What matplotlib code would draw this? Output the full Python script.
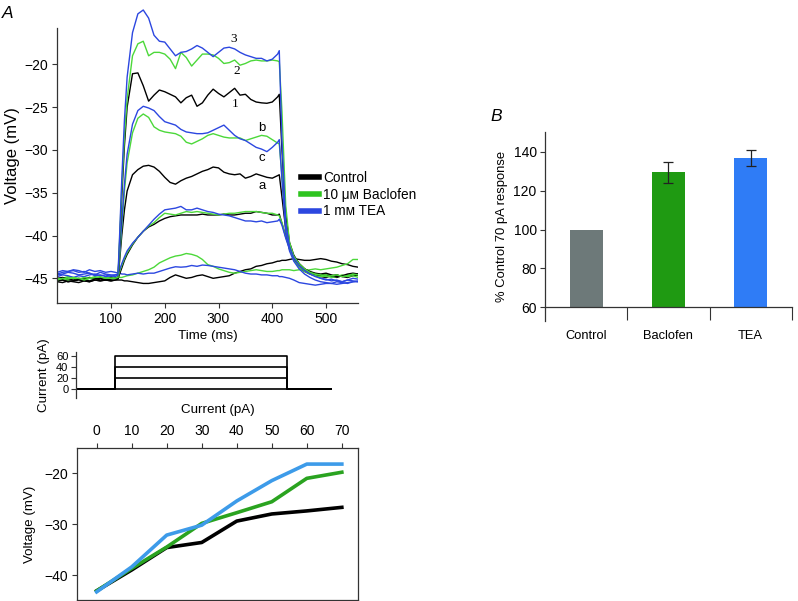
import matplotlib
matplotlib.use('Agg')
import matplotlib.pyplot as plt
import numpy as np
from matplotlib.lines import Line2D

plt.rcParams['font.family'] = ['Liberation Sans', 'DejaVu Sans']
plt.rcParams['axes.unicode_minus'] = True

# ---------------- data ----------------
time_ms = [0, 10, 20, 30, 40, 50, 60, 70, 80, 90, 100, 108, 113, 116, 120, 125, 130,
           140, 150, 160, 170, 180, 190, 200, 210, 220, 230, 240, 250, 260, 270, 280,
           290, 300, 310, 320, 330, 340, 350, 360, 370, 380, 390, 400, 410, 413, 418,
           425, 432, 440, 450, 460, 470, 480, 490, 500, 510, 520, 530, 540, 550, 560]

tea_60 = [-44.6, -44.5, -44.3, -44.4, -44.6, -44.5, -44.4, -44.7, -44.6, -44.8, -44.7, -44.8, -44.6,
          -40.0, -33.5, -26.5, -21.5, -16.3, -14.1, -13.65, -14.6, -16.6, -17.3, -17.4, -18.2, -19.0,
          -18.6, -18.5, -18.2, -17.8, -18.1, -18.6, -19.1, -18.6, -18.1, -18.0, -18.2, -18.6, -18.9,
          -19.1, -19.3, -19.3, -19.6, -19.4, -18.8, -18.4, -29.0, -38.5, -41.3, -42.6, -43.5, -44.1,
          -44.5, -44.8, -45.0, -45.1, -45.3, -45.2, -45.4, -45.2, -45.0, -45.1]
bac_60 = [-45.2, -45.0, -45.1, -44.9, -45.0, -45.2, -45.0, -44.9, -44.8, -45.0, -45.0, -45.0, -44.9,
          -40.5, -34.5, -28.5, -24.0, -19.0, -17.6, -17.3, -19.0, -18.6, -18.6, -18.8, -19.4, -20.5,
          -18.6, -19.2, -20.2, -19.5, -18.8, -18.8, -18.9, -19.3, -19.9, -19.8, -19.5, -20.1, -19.9,
          -19.6, -19.5, -19.6, -19.6, -19.5, -19.6, -19.7, -25.5, -36.5, -40.8, -42.4, -43.3, -43.9,
          -44.3, -44.5, -44.6, -44.8, -44.7, -44.6, -44.8, -44.7, -44.5, -44.6]
ctl_60 = [-45.3, -45.2, -45.4, -45.3, -45.1, -45.2, -45.3, -45.1, -45.0, -45.2, -45.1, -45.0, -45.0,
          -41.0, -35.5, -29.5, -25.0, -21.1, -21.0, -22.5, -24.3, -23.6, -23.0, -23.2, -23.5, -23.8,
          -24.5, -23.9, -23.6, -24.9, -24.5, -23.6, -22.9, -23.4, -23.8, -23.3, -22.8, -23.6, -23.5,
          -24.1, -24.4, -24.5, -24.55, -24.4, -23.8, -23.5, -30.0, -37.5, -40.8, -42.3, -43.3, -43.9,
          -44.2, -44.4, -44.5, -44.4, -44.6, -44.8, -44.7, -44.5, -44.4, -44.5]
tea_40 = [-44.5, -44.3, -44.2, -44.1, -44.3, -44.2, -44.4, -44.6, -44.3, -44.5, -44.6, -44.6, -44.6,
          -42.0, -38.5, -34.0, -30.5, -27.0, -25.4, -24.9, -25.1, -25.4, -26.1, -26.7, -26.9, -27.1,
          -27.6, -27.9, -28.0, -28.1, -28.1, -28.0, -27.7, -27.4, -27.1, -27.7, -28.3, -28.7, -28.9,
          -29.3, -29.7, -29.9, -30.2, -29.7, -29.1, -28.8, -33.5, -39.5, -41.8, -43.0, -43.9, -44.5,
          -44.9, -45.2, -45.4, -45.5, -45.6, -45.4, -45.5, -45.6, -45.4, -45.3]
bac_40 = [-45.0, -45.1, -44.9, -45.0, -45.1, -44.9, -45.0, -44.8, -45.0, -44.9, -45.0, -44.9, -44.9,
          -42.5, -39.0, -34.8, -31.5, -28.0, -26.3, -25.8, -26.2, -27.3, -27.7, -27.9, -28.0, -28.1,
          -28.4, -29.1, -29.3, -29.0, -28.7, -28.3, -28.1, -28.3, -28.5, -28.6, -28.6, -28.6, -28.9,
          -28.7, -28.5, -28.3, -28.4, -28.8, -29.2, -29.3, -33.0, -39.0, -41.6, -42.9, -43.7, -44.2,
          -44.5, -44.7, -44.8, -44.7, -44.9, -44.8, -44.6, -44.8, -44.7, -44.9]
ctl_40 = [-45.0, -44.9, -45.1, -45.2, -45.0, -45.1, -44.9, -45.0, -45.2, -45.1, -44.9, -44.9, -44.9,
          -43.0, -40.0, -37.0, -34.8, -32.9, -32.3, -31.9, -31.8, -32.0, -32.5, -33.2, -33.8, -34.0,
          -33.6, -33.3, -33.1, -32.8, -32.5, -32.3, -32.0, -32.1, -32.6, -32.8, -32.9, -32.8, -33.3,
          -33.1, -32.8, -33.0, -33.2, -33.3, -33.0, -32.9, -35.5, -39.3, -41.5, -42.8, -43.7, -44.2,
          -44.5, -44.7, -44.8, -44.9, -44.7, -44.6, -44.8, -44.9, -44.7, -44.6]
tea_20 = [-44.8, -44.6, -44.7, -44.9, -44.7, -44.8, -44.6, -44.5, -44.7, -44.6, -44.8, -44.6, -44.5,
          -44.0, -43.3, -42.5, -41.8, -40.9, -40.2, -39.5, -38.8, -38.1, -37.5, -37.0, -36.9, -36.8,
          -36.6, -37.0, -37.0, -36.8, -37.0, -37.2, -37.3, -37.5, -37.6, -37.7, -37.9, -38.1, -38.3,
          -38.3, -38.4, -38.3, -38.5, -38.4, -38.3, -38.1, -38.8, -40.3, -41.6, -42.6, -43.4, -44.0,
          -44.4, -44.7, -45.0, -45.2, -45.1, -45.3, -45.4, -45.2, -45.3, -45.4]
bac_20 = [-45.1, -45.0, -44.8, -44.9, -45.1, -45.0, -44.9, -45.1, -45.0, -44.9, -45.0, -45.0, -44.9,
          -44.2, -43.5, -42.7, -42.0, -41.0, -40.2, -39.5, -38.9, -38.5, -37.9, -37.4, -37.5, -37.6,
          -37.4, -37.2, -37.3, -37.2, -37.3, -37.4, -37.5, -37.6, -37.5, -37.4, -37.4, -37.3, -37.2,
          -37.2, -37.2, -37.3, -37.4, -37.4, -37.6, -37.7, -38.5, -40.2, -41.5, -42.5, -43.3, -43.9,
          -44.3, -44.5, -44.6, -44.5, -44.7, -44.6, -44.8, -44.6, -44.5, -44.7]
ctl_20 = [-45.3, -45.2, -45.4, -45.3, -45.2, -45.3, -45.4, -45.2, -45.3, -45.2, -45.3, -45.2, -45.1,
          -44.5, -43.8, -42.9, -42.2, -41.1, -40.2, -39.5, -39.0, -38.7, -38.3, -38.0, -37.8, -37.7,
          -37.6, -37.6, -37.6, -37.6, -37.5, -37.6, -37.6, -37.6, -37.5, -37.6, -37.6, -37.5, -37.4,
          -37.4, -37.2, -37.3, -37.4, -37.6, -37.6, -37.5, -38.6, -40.1, -41.4, -42.4, -43.3, -43.9,
          -44.3, -44.6, -44.7, -44.6, -44.8, -44.9, -44.7, -44.8, -44.6, -44.5]
tea_0 = [-44.3, -44.1, -44.2, -44.0, -44.1, -44.3, -44.0, -44.2, -44.1, -44.3, -44.2, -44.3, -44.4,
         -44.4, -44.5, -44.5, -44.6, -44.5, -44.4, -44.5, -44.4, -44.4, -44.2, -44.0, -43.8, -43.65,
         -43.7, -43.65, -43.5, -43.6, -43.45, -43.5, -43.6, -43.7, -43.8, -43.9, -44.0, -44.2, -44.4,
         -44.5, -44.5, -44.6, -44.6, -44.7, -44.7, -44.8, -44.8, -44.9, -45.0, -45.2, -45.5, -45.6,
         -45.7, -45.8, -45.7, -45.6, -45.6, -45.7, -45.6, -45.5, -45.4, -45.4]
bac_0 = [-45.3, -45.1, -45.2, -45.0, -45.1, -45.2, -45.0, -45.1, -44.9, -45.0, -45.1, -45.0, -44.9,
         -44.9, -44.9, -44.8, -44.7, -44.6, -44.4, -44.2, -44.0, -43.7, -43.2, -42.9, -42.6, -42.4,
         -42.3, -42.1, -42.2, -42.4, -42.8, -43.4, -43.6, -43.9, -44.1, -44.3, -44.4, -44.3, -44.2,
         -44.1, -44.0, -44.1, -44.2, -44.2, -44.1, -44.1, -44.0, -44.0, -44.0, -44.1, -44.0, -44.1,
         -44.0, -43.9, -44.0, -43.9, -43.8, -43.7, -43.5, -43.3, -42.8, -42.8]
ctl_0 = [-45.4, -45.5, -45.3, -45.4, -45.5, -45.3, -45.4, -45.2, -45.3, -45.2, -45.3, -45.2, -45.2,
         -45.2, -45.2, -45.3, -45.3, -45.4, -45.5, -45.6, -45.6, -45.5, -45.4, -45.3, -44.9, -44.6,
         -44.8, -45.0, -44.9, -44.7, -44.6, -44.8, -45.0, -44.9, -44.8, -44.7, -44.4, -44.2, -44.0,
         -43.9, -43.6, -43.5, -43.3, -43.2, -43.0, -43.0, -42.9, -42.9, -42.8, -42.7, -42.8, -42.9,
         -42.9, -42.8, -42.7, -42.8, -43.0, -43.1, -43.3, -43.4, -43.6, -43.7]

trace_labels = [("3", 329, -17.0, 'serif'), ("2", 333, -20.8, 'serif'), ("1", 331, -24.6, 'serif'),
                ("b", 381, -27.4, 'sans'), ("c", 381, -30.9, 'sans'), ("a", 381, -34.2, 'sans')]

step_amps = [0, 20, 40, 60]
step_on, step_off = 113, 413

iv_current = [0, 10, 20, 30, 40, 50, 60, 70]
iv_control = [-43.1, -39.0, -34.6, -33.6, -29.4, -28.0, -27.4, -26.7]
iv_baclofen = [-43.1, -38.7, -34.5, -29.85, -27.75, -25.6, -21.0, -19.8]
iv_tea = [-43.3, -38.4, -32.15, -30.2, -25.45, -21.45, -18.2, -18.2]

bar_groups = ["Control", "Baclofen", "TEA"]
bar_values = [100, 129.4, 136.8]
bar_errors = [0, 5.2, 4.1]

legend_labels = ["Control", "10 \u03bc\u1d0d Baclofen", "1 m\u1d0d TEA"]

# ---------------- styling ----------------
C_BLACK = '#000000'
C_GREEN = '#4cd83a'
C_BLUE = '#2c47e0'
IV_GREEN = '#2aa320'
IV_BLUE = '#3d9be9'
BAR_COLORS = ['#6d7979', '#1f9a12', '#2f7cf6']
SPINE = '#333333'
FS = 9.6
TFS = 10

W, H = 798, 601
fig = plt.figure(figsize=(W / 100, H / 100), dpi=100)


def box(l, t, r, b):
    return [l / W, 1 - b / H, (r - l) / W, (b - t) / H]


def style(ax):
    for s in ax.spines.values():
        s.set_color(SPINE)
        s.set_linewidth(0.9)
    ax.tick_params(direction='out', length=3.5, width=0.8, color=SPINE,
                   labelsize=TFS, pad=2.5)


# ---------- Panel A: voltage traces ----------
axA = fig.add_axes(box(56.7, 7, 358.3, 303.3))
style(axA)
levels = [(ctl_0, bac_0, tea_0), (ctl_20, bac_20, tea_20),
          (ctl_40, bac_40, tea_40), (ctl_60, bac_60, tea_60)]
for c, b, t in levels:
    axA.plot(time_ms, c, color=C_BLACK, lw=1.0)
    axA.plot(time_ms, b, color=C_GREEN, lw=1.0)
    axA.plot(time_ms, t, color=C_BLUE, lw=1.0)
axA.set_xlim(-1, 560)
axA.set_ylim(-47.92, -13.3)
axA.spines['top'].set_visible(False)
axA.spines['right'].set_visible(False)
axA.spines['left'].set_bounds(-47.92, -15.8)
axA.set_xticks([100, 200, 300, 400, 500])
axA.set_yticks([-20, -25, -30, -35, -40, -45])
axA.set_xlabel("Time (ms)", fontsize=FS, labelpad=3)
axA.set_ylabel("Voltage (mV)", fontsize=12, labelpad=3)
for txt, x, y, fam in trace_labels:
    if fam == 'serif':
        axA.text(x, y, txt, fontsize=9.5, family='Liberation Serif', ha='center', va='center')
    else:
        axA.text(x, y, txt, fontsize=9.5, ha='center', va='center')
handles = [Line2D([], [], color=C_BLACK, lw=4),
           Line2D([], [], color='#2ec41f', lw=4),
           Line2D([], [], color=C_BLUE, lw=4)]
leg = fig.legend(handles, legend_labels, loc='upper left', frameon=False,
                 bbox_to_anchor=(301 / W, 1 - 171 / H), fontsize=9.8,
                 handlelength=1.3, handletextpad=0.3, labelspacing=0.2,
                 borderpad=0, borderaxespad=0)
fig.text(8 / W, 1 - 13 / H, "A", fontsize=12.5, style='italic', ha='center', va='center')

# ---------- current step panel ----------
axI = fig.add_axes(box(76, 351.7, 331.7, 398.3))
style(axI)
x0, x1 = 45, 490
for a in step_amps:
    axI.plot([x0, step_on, step_on, step_off, step_off, x1], [0, 0, a, a, 0, 0],
             color='black', lw=1.2)
axI.set_xlim(x0, x1)
axI.set_ylim(-17, 67.8)
for s in ['top', 'right', 'bottom']:
    axI.spines[s].set_visible(False)
axI.set_xticks([])
axI.set_yticks(step_amps)
axI.tick_params(axis='y', labelsize=8, pad=2)
axI.set_ylabel("Current (pA)", fontsize=FS, labelpad=4)

# ---------- I-V panel ----------
axV = fig.add_axes(box(76.7, 448.3, 358.3, 600))
style(axV)
axV.plot(iv_current, iv_control, color='black', lw=2.6)
axV.plot(iv_current, iv_baclofen, color=IV_GREEN, lw=2.6)
axV.plot(iv_current, iv_tea, color=IV_BLUE, lw=2.6)
axV.set_xlim(-5.7, 74.7)
axV.set_ylim(-44.9, -15.1)
axV.xaxis.tick_top()
axV.xaxis.set_label_position('top')
axV.set_xticks(iv_current)
axV.set_yticks([-20, -30, -40])
axV.tick_params(axis='x', pad=4)
axV.set_xlabel("Current (pA)", fontsize=FS, labelpad=8)
axV.set_ylabel("Voltage (mV)", fontsize=FS, labelpad=6)

# ---------- Panel B: bar chart ----------
axB = fig.add_axes(box(545, 132, 791.8, 320.5))
style(axB)
xpos = np.arange(len(bar_groups))
base = 60
axB.bar(xpos, np.array(bar_values) - base, bottom=base, width=0.4, color=BAR_COLORS)
axB.errorbar(xpos[1:], bar_values[1:], yerr=bar_errors[1:], fmt='none',
             ecolor='#222222', elinewidth=0.9, capsize=3.5, capthick=0.9)
axB.set_xlim(-0.5, 2.5)
axB.set_ylim(53.2, 150.2)
axB.spines['top'].set_visible(False)
axB.spines['right'].set_visible(False)
axB.spines['bottom'].set_position(('data', base))
axB.set_yticks([60, 80, 100, 120, 140])
axB.set_xticks([0.5, 1.5, 2.5])
axB.set_xticklabels([])
axB.tick_params(axis='x', which='major', length=13.2 * 0.72, direction='out')
axB.set_xticks(xpos, minor=True)
axB.set_xticklabels(bar_groups, minor=True)
axB.tick_params(axis='x', which='minor', length=0, labelsize=9.3, pad=16)
axB.set_ylabel("% Control 70 pA response", fontsize=9.4, labelpad=4)
fig.text(496.4 / W, 1 - 116.5 / H, "B", fontsize=12.5, style='italic', ha='center', va='center')

fig.savefig('out.png', dpi=100)
